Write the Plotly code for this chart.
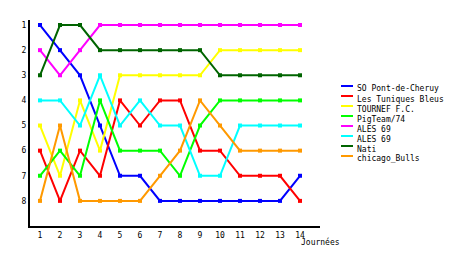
import plotly.graph_objects as go

journees = list(range(1, 15))
team_names = ["SO Pont-de-Cheruy", "Les Tuniques Bleus", "TOURNEF F.C.", "PigTeam/74",
              "ALES 69", "ALES 69", "Nati", "chicago_Bulls"]
team_colors = ["#0000FF", "#FF0000", "#FFFF00", "#00FF00",
               "#FF00FF", "#00FFFF", "#006400", "#FF9900"]

so_pont = [1, 2, 3, 5, 7, 7, 8, 8, 8, 8, 8, 8, 8, 7]
tuniques = [6, 8, 6, 7, 4, 5, 4, 4, 6, 6, 7, 7, 7, 8]
tournef = [5, 7, 4, 6, 3, 3, 3, 3, 3, 2, 2, 2, 2, 2]
pigteam = [7, 6, 7, 4, 6, 6, 6, 7, 5, 4, 4, 4, 4, 4]
ales_a = [2, 3, 2, 1, 1, 1, 1, 1, 1, 1, 1, 1, 1, 1]
ales_b = [4, 4, 5, 3, 5, 4, 5, 5, 7, 7, 5, 5, 5, 5]
nati = [3, 1, 1, 2, 2, 2, 2, 2, 2, 3, 3, 3, 3, 3]
chicago = [8, 5, 8, 8, 8, 8, 7, 6, 4, 5, 6, 6, 6, 6]

series = [so_pont, tuniques, tournef, pigteam, ales_a, ales_b, nati, chicago]
x_ticks = list(range(1, 15))
y_ticks = list(range(1, 9))
x_label = "Journées"

W, H = 460, 255
L, R, T, B = 30, 140, 20, 29
pw, ph = W - L - R, H - T - B

def px2paper(px, py):
    return (px - L) / pw, (H - B - py) / ph

FONT = "DejaVu Sans Mono"
fig = go.Figure()
for name, color, vals in zip(team_names, team_colors, series):
    fig.add_trace(go.Scatter(
        x=journees, y=vals, name=name, mode="lines+markers",
        line=dict(color=color, width=2),
        marker=dict(color=color, size=4, symbol="square"),
        showlegend=False,
    ))

shapes = []
annotations = []
for i, (name, color) in enumerate(zip(team_names, team_colors)):
    sy = 86 + 10 * i
    x0, y0 = px2paper(341, sy)
    x1, _ = px2paper(353, sy)
    shapes.append(dict(type="line", xref="paper", yref="paper",
                       x0=x0, x1=x1, y0=y0, y1=y0,
                       line=dict(color=color, width=2)))
    tx, ty = px2paper(355, sy + 3)
    annotations.append(dict(text=name, xref="paper", yref="paper", x=tx, y=ty,
                            xanchor="left", yanchor="middle", showarrow=False,
                            font=dict(family=FONT, size=8, color="black")))

ax, ay = px2paper(299, 242)
annotations.append(dict(text=x_label, xref="paper", yref="paper", x=ax, y=ay,
                        xanchor="left", yanchor="middle", showarrow=False,
                        font=dict(family=FONT, size=8, color="black")))

fig.update_layout(
    width=W, height=H,
    margin=dict(l=L, r=R, t=T, b=B, pad=0),
    paper_bgcolor="white", plot_bgcolor="white",
    font=dict(family=FONT, size=8, color="black"),
    shapes=shapes, annotations=annotations,
    xaxis=dict(range=[0.5, 15], tickvals=x_ticks, ticktext=[str(v) for v in x_ticks],
               showgrid=False, zeroline=False, showline=True, linecolor="black",
               linewidth=2, ticks="", ticklen=0, tickfont=dict(family=FONT, size=8)),
    yaxis=dict(range=[9, 0.8], tickvals=y_ticks, ticktext=[str(v) for v in y_ticks],
               showgrid=False, zeroline=False, showline=True, linecolor="black",
               linewidth=2, ticks="", ticklen=0, tickfont=dict(family=FONT, size=8)),
)

fig.write_html("out.html")
